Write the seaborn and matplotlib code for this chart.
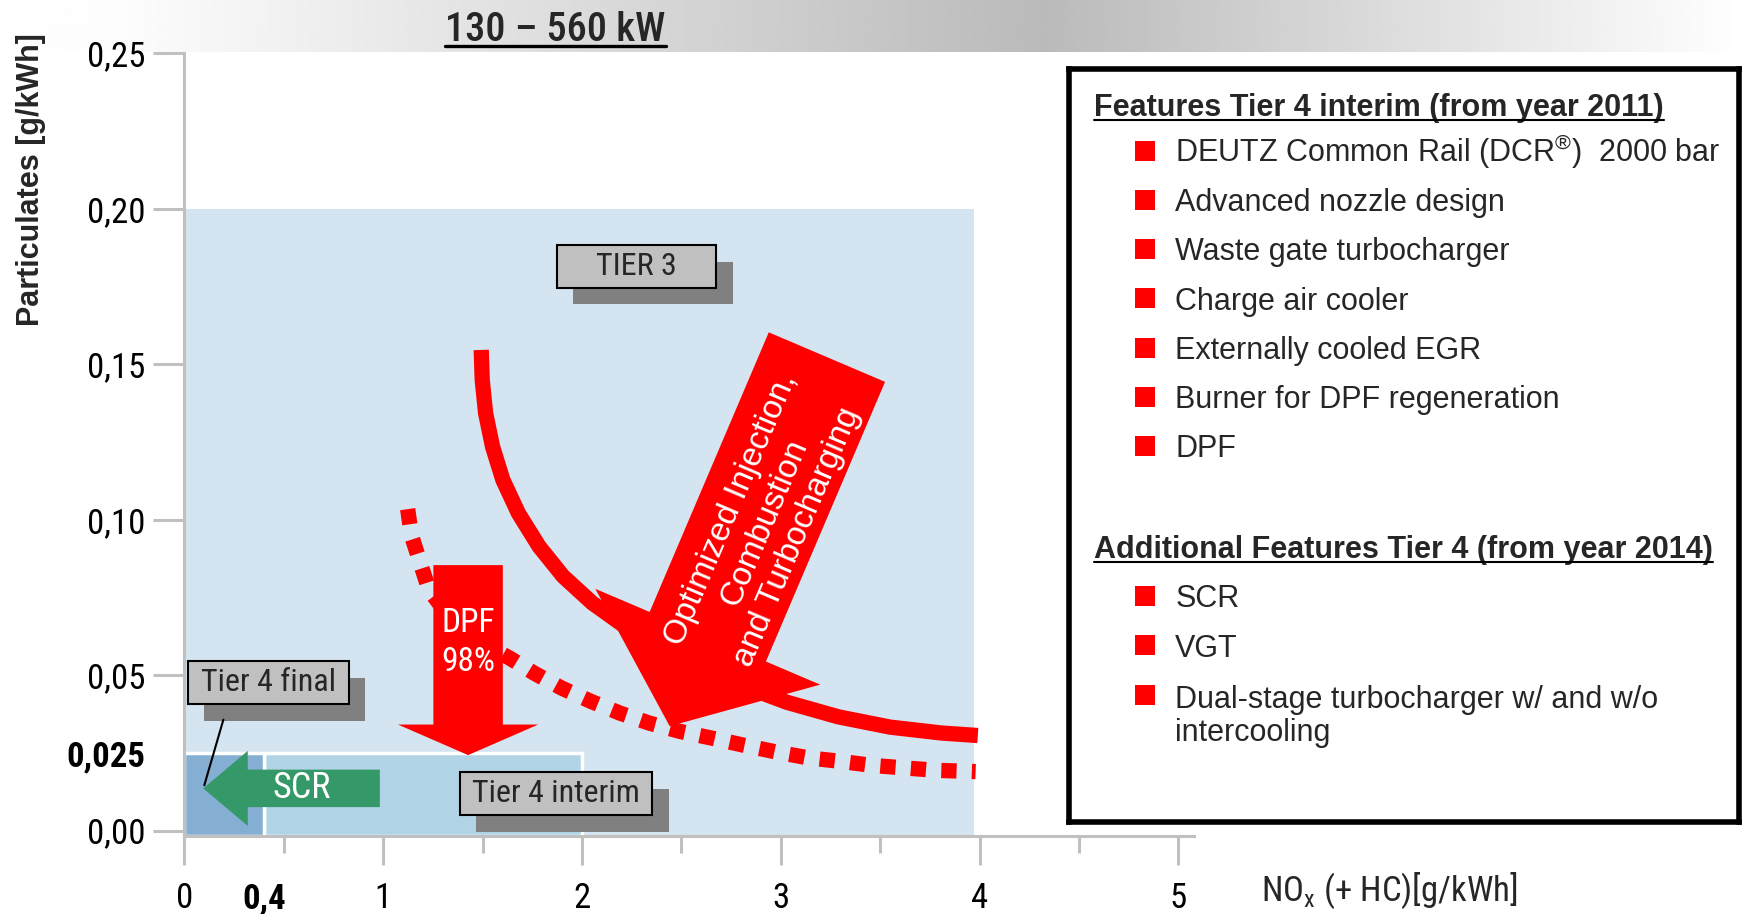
import matplotlib
matplotlib.use('Agg')
import matplotlib.pyplot as plt
import matplotlib.patches as mpatches
import matplotlib.transforms as mtransforms
from matplotlib import font_manager as fm
from matplotlib.lines import Line2D
import seaborn as sns
import numpy as np

# emission stages as regions of the NOx / particulates plane
stage_names = ['TIER 3', 'Tier 4 interim', 'Tier 4 final']
stage_nox_from = [0.0, 0.4, 0.0]
stage_nox_to = [3.97, 2.0, 0.4]
stage_pm = [0.20, 0.025, 0.025]
stage_colors = ['#d4e4f0', '#b0d4e6', '#84aed2']

# trade-off curve with inner engine measures (solid) and with DPF (dotted)
engine_nox = [1.493, 1.498, 1.515, 1.550, 1.602, 1.680, 1.784, 1.905, 2.052, 2.251, 2.511, 2.771,
              3.030, 3.290, 3.550, 3.809, 3.991]
engine_pm = [0.1546, 0.1450, 0.1343, 0.1235, 0.1128, 0.1021, 0.0914, 0.0818, 0.0732, 0.0641, 0.0550,
             0.0475, 0.0413, 0.0366, 0.0333, 0.0314, 0.0306]
dpf_nox = [1.123, 1.142, 1.192, 1.23, 1.33, 1.45, 1.55, 1.636, 1.758, 1.896, 2.044, 2.191, 2.338,
           2.494, 2.650, 2.805, 2.970, 3.140, 3.299, 3.458, 3.617, 3.786, 3.980]
dpf_pm = [0.1034, 0.0949, 0.0850, 0.0775, 0.0690, 0.0630, 0.0585, 0.0555, 0.0507, 0.0459, 0.0416,
          0.0378, 0.0346, 0.0319, 0.0298, 0.0276, 0.0254, 0.0234, 0.0223, 0.0210, 0.0202, 0.0194, 0.0190]

nox_ticks = [0, 0.4, 1, 2, 3, 4, 5]
nox_labels = ['0', '0,4', '1', '2', '3', '4', '5']
pm_ticks = [0.0, 0.025, 0.05, 0.10, 0.15, 0.20, 0.25]
pm_labels = ['0,00', '0,025', '0,05', '0,10', '0,15', '0,20', '0,25']

features_2011 = ['DEUTZ Common Rail (DCR$^{\\mathregular{®}}$)  2000 bar', 'Advanced nozzle design',
                 'Waste gate turbocharger', 'Charge air cooler', 'Externally cooled EGR',
                 'Burner for DPF regeneration', 'DPF']
features_2014 = ['SCR', 'VGT', 'Dual-stage turbocharger w/ and w/o\nintercooling']

installed = {f.name for f in fm.fontManager.ttflist}
narrow_pick = [n for n in ['Roboto Condensed', 'PT Sans Narrow', 'Archivo Narrow',
                           'IBM Plex Sans Condensed'] if n in installed][:1]
NARROW = narrow_pick + ['DejaVu Sans']
ARIAL = ['Liberation Sans', 'DejaVu Sans']
RED = '#ff0000'
GREEN = '#349868'

sns.set_theme(style='white')
plt.rcParams['font.family'] = NARROW

fig = plt.figure(figsize=(17.42, 9.14), dpi=100)

# grey gradient band at the top
ax_band = fig.add_axes([0, 1 - 47 / 823, 1, 47 / 823])
gx = np.linspace(0, 1, 800)
shade = np.interp(gx, [0, 0.07, 0.6, 1.0], [1.0, 0.99, 0.73, 1.0])
ax_band.imshow(shade[None, :], cmap='gray', vmin=0, vmax=1, aspect='auto', extent=[0, 1, 0, 1])
ax_band.axis('off')

# main chart
y_floor = -0.0018
ax = fig.add_axes([166 / 1568, 1 - 753 / 823, 909 / 1568, 705 / 823])
ax.patch.set_alpha(0)
ax.set_xlim(0, 5.08)
ax.set_ylim(y_floor, 0.25)

for i in range(len(stage_names)):
    ax.bar(stage_nox_from[i], stage_pm[i] - y_floor, bottom=y_floor,
           width=stage_nox_to[i] - stage_nox_from[i], align='edge',
           color=stage_colors[i], edgecolor='white' if i else 'none',
           linewidth=2.5 if i else 0, zorder=1)

sns.lineplot(x=engine_nox, y=engine_pm, sort=False, color=RED, lw=11, solid_capstyle='butt',
             solid_joinstyle='round', ax=ax, zorder=3)
sns.lineplot(x=dpf_nox, y=dpf_pm, sort=False, color=RED, lw=11, linestyle=(0, (1, 1)),
             dash_capstyle='butt', ax=ax, zorder=3)


def block_arrow(tail, tip, body, head_w, head_l, color, z=4):
    style = mpatches.ArrowStyle('simple', head_length=head_l, head_width=head_w, tail_width=body)
    ax.annotate('', xy=tip, xytext=tail, zorder=z,
                arrowprops=dict(arrowstyle=style, mutation_scale=1, fc=color, ec='none', lw=0,
                                shrinkA=0, shrinkB=0))


block_arrow((3.232, 0.1523), (2.441, 0.0336), 91, 176, 70, RED)
block_arrow((1.427, 0.0854), (1.427, 0.0243), 50, 101, 22, RED)
block_arrow((0.983, 0.0136), (0.095, 0.0136), 27, 54, 32, GREEN)

ax.text(2.916, 0.0989, 'Optimized Injection,\nCombustion\nand Turbocharging', rotation=66.9,
        rotation_mode='anchor', ha='center', va='center', multialignment='center',
        color='white', fontsize=24, family=ARIAL, linespacing=1.2, zorder=6)
ax.text(1.427, 0.0605, 'DPF\n98%', ha='center', va='center', color='white', fontsize=24,
        linespacing=1.3, zorder=6)
ax.text(0.592, 0.0136, 'SCR', ha='center', va='center', color='white', fontsize=26, zorder=6)

# grey stage label boxes with drop shadow
shadow_tr = mtransforms.offset_copy(ax.transData, fig=fig, x=12, y=-12, units='points')
label_boxes = [('TIER 3', 1.872, 2.676, 0.1746, 0.1882),
               ('Tier 4 final', 0.017, 0.827, 0.0407, 0.0546),
               ('Tier 4 interim', 1.385, 2.352, 0.005, 0.0189)]
for name, x0, x1, y0, y1 in label_boxes:
    ax.add_patch(mpatches.Rectangle((x0, y0), x1 - x0, y1 - y0, transform=shadow_tr,
                                    fc='#808080', ec='none', zorder=4.5))
    ax.add_patch(mpatches.Rectangle((x0, y0), x1 - x0, y1 - y0, fc='#c0c0c0', ec='black',
                                    lw=1.5, zorder=5))
    ax.text((x0 + x1) / 2, (y0 + y1) / 2, name, ha='center', va='center', fontsize=23, zorder=5.5)

ax.annotate('', xy=(0.1, 0.0146), xytext=(0.196, 0.0357), zorder=5,
            arrowprops=dict(arrowstyle='-', lw=1.5, color='black', shrinkA=0, shrinkB=0))

# axes styling
ax.set_xticks(nox_ticks, nox_labels)
ax.set_xticks(np.arange(0.5, 5, 1), minor=True)
ax.set_yticks(pm_ticks, pm_labels)
ax.tick_params(axis='both', which='both', colors='#c0c0c0', labelcolor='black', width=2.2,
               direction='out', bottom=True, left=True)
ax.tick_params(axis='x', which='major', length=21, pad=12, labelsize=25)
ax.tick_params(axis='x', which='minor', length=12.5)
ax.tick_params(axis='y', which='major', length=22, pad=6, labelsize=25)
ax.xaxis.get_major_ticks()[1].tick1line.set_visible(False)
ax.yaxis.get_major_ticks()[1].tick1line.set_visible(False)
ax.get_xticklabels()[1].set_fontweight('bold')
ax.get_yticklabels()[1].set_fontweight('bold')
ax.spines[['top', 'right']].set_visible(False)
for s in ['left', 'bottom']:
    ax.spines[s].set_color('#c0c0c0')
    ax.spines[s].set_linewidth(2.2)
ax.grid(False)

fig.text(28 / 1568, 1 - 162 / 823, 'Particulates [g/kWh]', rotation=90, ha='center', va='center',
         fontsize=22, fontweight='bold', family=ARIAL)
fig.text(1135 / 1568, 1 - 802 / 823, 'NO$_\\mathregular{x}$ (+ HC)[g/kWh]', ha='left', va='center',
         fontsize=25)
title = fig.text(500 / 1568, 1 - 37 / 823, '130 \u2013 560 kW', ha='center', va='baseline',
                 fontsize=29, fontweight='medium')

# feature box on the right
ax_box = fig.add_axes([962 / 1568, 1 - 740 / 823, 603 / 1568, 678 / 823])
ax_box.set_xlim(0, 1)
ax_box.set_ylim(0, 1)
ax_box.set_xticks([])
ax_box.set_yticks([])
for s in ax_box.spines.values():
    s.set_color('black')
    s.set_linewidth(4)
    s.set_visible(True)

row = 0.0652
head1 = ax_box.text(0.038, 0.938, 'Features Tier 4 interim (from year 2011)', fontsize=22,
                    fontweight='bold', family=ARIAL, va='baseline')
y1 = 0.876 - row * np.arange(len(features_2011))
for y, t in zip(y1, features_2011):
    ax_box.text(0.159, y, t, fontsize=22, family=ARIAL, va='baseline')
head2 = ax_box.text(0.038, 0.350, 'Additional Features Tier 4 (from year 2014)', fontsize=22,
                    fontweight='bold', family=ARIAL, va='baseline')
y2 = 0.2847 - row * np.arange(len(features_2014))
for y, t in zip(y2, features_2014):
    # multi-line items are anchored on the baseline of their last line
    n_extra = t.count('\n')
    ax_box.text(0.159, y - n_extra * 0.0472, t, fontsize=22, family=ARIAL, va='baseline',
                linespacing=1.12)
sns.scatterplot(x=[0.114] * (len(y1) + len(y2)), y=np.concatenate([y1, y2]) + 0.0147, marker='s',
                s=207, color=RED, edgecolor='none', ax=ax_box, legend=False, zorder=3)


def underline(txt, gap, lw):
    fig.canvas.draw()
    bb = txt.get_window_extent(fig.canvas.get_renderer())
    base = txt.get_transform().transform(txt.get_position())[1]
    fs = txt.get_fontsize() * fig.dpi / 72
    inv = fig.transFigure.inverted()
    (fx0, fy), (fx1, _) = inv.transform([(bb.x0, base - gap * fs), (bb.x1, base - gap * fs)])
    fig.add_artist(Line2D([fx0, fx1], [fy, fy], color='black', lw=lw, transform=fig.transFigure))


underline(title, 0.11, 2.4)
underline(head1, 0.13, 1.5)
underline(head2, 0.13, 1.5)

fig.savefig('out.png', dpi=100)
